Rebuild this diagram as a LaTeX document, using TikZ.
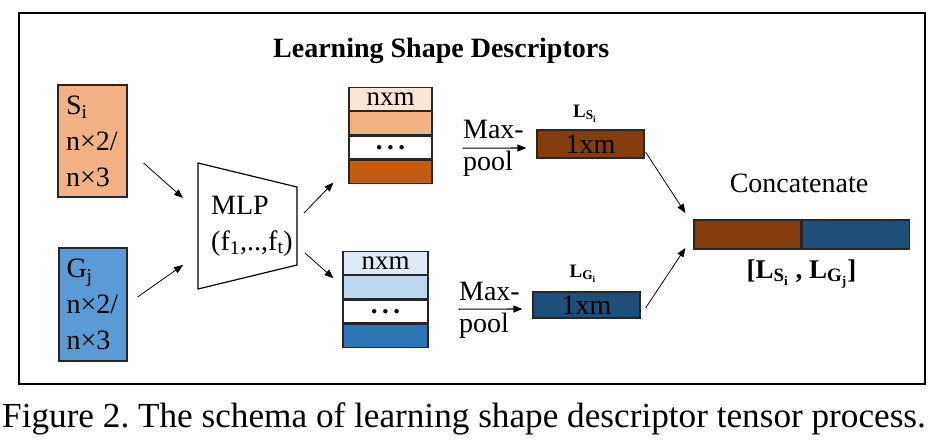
\documentclass[tikz,border=0pt]{standalone}
\usepackage{fontspec}
\setmainfont{Liberation Serif}
\usepackage{tikz}
\usetikzlibrary{positioning,arrows.meta,calc}
\usepackage{xcolor}
\definecolor{inS}{HTML}{F4B183}
\definecolor{inG}{HTML}{5B9BD5}
\definecolor{sLight}{HTML}{FBE5D6}
\definecolor{sDark}{HTML}{C55A11}
\definecolor{gLight}{HTML}{DEEBF7}
\definecolor{gMid}{HTML}{BDD7EE}
\definecolor{gDark}{HTML}{2E75B6}
\definecolor{brownS}{HTML}{843C0C}
\definecolor{navyG}{HTML}{1F4E79}
\frenchspacing

\begin{document}
\begin{tikzpicture}[x=1pt,y=-1pt,>={Triangle[length=9pt,width=7pt]},
  box/.style={draw=black!85,line width=1.2pt,inner sep=0pt},
  cellS/.style={box,minimum width=83pt,minimum height=23pt,font=\fontsize{27}{27}\selectfont},
  cellG/.style={cellS,minimum width=85pt},
  bar/.style={box,minimum width=107pt,minimum height=28pt,font=\fontsize{28}{28}\selectfont},
  big/.style={font=\fontsize{28}{36}\selectfont}]
\useasboundingbox (0,0) rectangle (943,447);
\draw[line width=1.4pt] (19,13) rectangle (925,384);
\node[font=\bfseries\fontsize{28}{28}\selectfont,anchor=base west,inner sep=0pt] (title) at (273,57) {Learning Shape Descriptors};

% inputs
\node[box,fill=inS,minimum width=69pt,minimum height=112pt,text width=53pt,align=left,big] (S) at (92.5,141) {S\textsubscript{i}\\n×2/\\n×3};
\node[box,fill=inG,minimum width=68pt,minimum height=113pt,text width=53pt,align=left,big] (G) at (93,304.5) {G\textsubscript{j}\\n×2/\\n×3};

% shared mlp
\draw[line width=1.2pt] (198,163) -- (297,187) -- (297,265) -- (198,289) -- cycle;
\coordinate (mlpW) at (198,226);
\coordinate (mlpE) at (297,226);
\node[align=left,big] (mlp) at (252,226) {MLP\\(f\textsubscript{1},..,f\textsubscript{t})};

% per-point features
\node[cellS,fill=sLight] (s1) at (390.5,99) {nxm};
\node[cellS,fill=inS,below=0pt of s1] (s2) {};
\node[cellS,fill=white,below=0pt of s2] (s3) {\textbf{.\,.\,.}};
\node[cellS,fill=sDark,below=0pt of s3] (s4) {};
\node[cellG,fill=gLight] (g1) at (385.5,263) {nxm};
\node[cellG,fill=gMid,below=0pt of g1] (g2) {};
\node[cellG,fill=white,below=0pt of g2] (g3) {\textbf{.\,.\,.}};
\node[cellG,fill=gDark,below=0pt of g3] (g4) {};

% pooled descriptors
\node[bar,fill=brownS] (LS) at (590.5,144) {1xm};
\node[bar,fill=navyG,minimum height=26pt] (LG) at (586.5,305) {1xm};
\node[font=\bfseries\fontsize{19}{19}\selectfont,anchor=base,inner sep=0pt] (LSname) at (585,117) {L\textsubscript{S\textsubscript{i}}};
\node[font=\bfseries\fontsize{19}{19}\selectfont,anchor=base,inner sep=0pt] (LGname) at (583,277) {L\textsubscript{G\textsubscript{i}}};

% concatenation
\node[bar,fill=brownS,minimum height=29pt] (cS) at (747.5,234.5) {};
\node[bar,fill=navyG,minimum height=29pt,right=0pt of cS] (cG) {};
\node[big,anchor=base,inner sep=0pt] (concat) at (799,192) {Concatenate};
\node[font=\bfseries\fontsize{27}{27}\selectfont,anchor=base,inner sep=0pt] (pair) at (801.5,278) {[L\textsubscript{S\textsubscript{i}} , L\textsubscript{G\textsubscript{j}}]};

\draw[->,line width=0.8pt] ([shift={(16,22)}]S.east) -- ([shift={(-15,-28)}]mlpW);
\draw[->,line width=0.8pt] ([shift={(10,-7.5)}]G.east) -- ([shift={(-15,39)}]mlpW);
\draw[->,line width=0.8pt] ([shift={(7,-13)}]mlpE) -- ([shift={(-15,11)}]s4.west);
\draw[->,line width=0.8pt] ([shift={(8,27)}]mlpE) -- ([shift={(-9,-9)}]g2.west);
\draw[->,line width=1.1pt] ([shift={(30,25)}]s2.east) -- ([shift={(-10,4)}]LS.west)
  node[pos=0,anchor=base west,yshift=10pt,inner sep=0pt,big] {Max-}
  node[pos=0,anchor=base west,yshift=-22pt,inner sep=0pt,big] {pool};
\draw[->,line width=1.1pt] ([shift={(30,22)}]g2.east) -- ([shift={(-10,4)}]LG.west)
  node[pos=0,anchor=base west,yshift=9pt,inner sep=0pt,big] {Max-}
  node[pos=0,anchor=base west,yshift=-23pt,inner sep=0pt,big] {pool};
\draw[->,line width=0.8pt] ([shift={(1,8)}]LS.east) -- ([shift={(-8,-21.5)}]cS.west);
\draw[->,line width=0.8pt] ([shift={(5,3)}]LG.east) -- ([shift={(-8,13.5)}]cS.west);

\node[font=\fontsize{35.2}{36}\selectfont,anchor=base west,inner sep=0pt] (caption) at (2,427) {Figure 2. The schema of learning shape descriptor tensor process.};
\end{tikzpicture}
\end{document}
